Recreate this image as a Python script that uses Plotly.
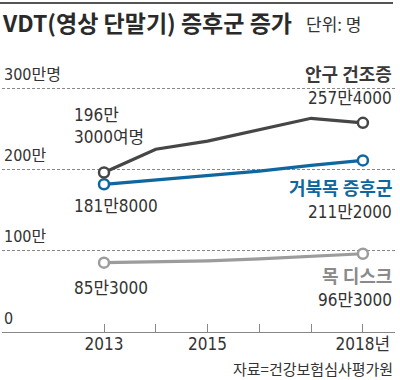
import plotly.graph_objects as go

years = [2013, 2014, 2015, 2016, 2017, 2018]
dry_eye = [196.3, 225, 235, 249, 263, 257.4]      # 안구 건조증 (만 명)
turtle_neck = [181.8, 187, 192, 198, 205, 211.2]  # 거북목 증후군
neck_disc = [85.3, 86.5, 87.5, 90, 93, 96.3]      # 목 디스크
y_grid = [100, 200, 300]
y_labels = ["100만", "200만", "300만명"]
tick_vals = [2013, 2014, 2015, 2016, 2017, 2018]
tick_text = ["2013", "", "2015", "", "", "2018년"]

FONT = "Noto Sans CJK KR"
NUM = "'DejaVu Sans Condensed', 'Liberation Sans Narrow', 'Noto Sans CJK KR'"
DARK = "#464646"
BLUE = "#0f67a0"
LIGHT = "#9c9c9c"

W, H = 400, 380
ML, MR, MT, MB = 2, 5, 85, 48
PW, PH = W - ML - MR, H - MT - MB


def px(xp):
    return (xp - ML) / PW


def py(yp):
    return (H - MB - yp) / PH


fig = go.Figure()
for vals, col in [(neck_disc, LIGHT), (turtle_neck, BLUE), (dry_eye, DARK)]:
    fig.add_trace(go.Scatter(
        x=years, y=vals, mode="lines", line=dict(color=col, width=3.2),
        hoverinfo="skip", showlegend=False))
    fig.add_trace(go.Scatter(
        x=[years[0], years[-1]], y=[vals[0], vals[-1]], mode="markers",
        marker=dict(symbol="circle", size=10, color="white",
                    line=dict(color=col, width=2.5)),
        hoverinfo="skip", showlegend=False))

ann = []
# y-axis labels above gridlines
for v, t in zip([0] + y_grid, ["0"] + y_labels):
    ann.append(dict(xref="paper", yref="y", x=0, y=v, xanchor="left",
                    yanchor="middle", yshift=14, text=t, showarrow=False,
                    font=dict(family=NUM, size=16, color="#333")))


def lab(x, y, text, xanchor, xshift, yshift, color="#333", size=17, family=NUM):
    ann.append(dict(xref="x", yref="y", x=x, y=y, text=text, showarrow=False,
                    xanchor=xanchor, yanchor="middle", xshift=xshift,
                    yshift=yshift, align="left" if xanchor == "left" else "right",
                    font=dict(family=family, size=size, color=color)))


lab(2013, dry_eye[0], "196만<br>3000여명", "left", -32, 47)
lab(2013, turtle_neck[0], "181만8000", "left", -32, -22)
lab(2013, neck_disc[0], "85만3000", "left", -32, -25)

lab(2018, dry_eye[-1], "<b>안구 건조증</b>", "right", 31, 50, "#3a3a3a", 18, FONT)
lab(2018, dry_eye[-1], "257만4000", "right", 31, 25)
lab(2018, turtle_neck[-1], "<b>거북목 증후군</b>", "right", 31, -27, BLUE, 18, FONT)
lab(2018, turtle_neck[-1], "211만2000", "right", 31, -52)
lab(2018, neck_disc[-1], "<b>목 디스크</b>", "right", 31, -21, "#8a8a8a", 18, FONT)
lab(2018, neck_disc[-1], "96만3000", "right", 31, -46)

# title
ann.append(dict(xref="paper", yref="paper", x=px(0), y=py(22), xanchor="left",
                yanchor="middle", showarrow=False,
                text="<b>VDT(영상 단말기) 증후군 증가</b>",
                font=dict(family=FONT, size=23, color="#2a2a2a")))
ann.append(dict(xref="paper", yref="paper", x=px(304), y=py(23), xanchor="left",
                yanchor="middle", showarrow=False, text="단위: 명",
                font=dict(family=FONT, size=17, color="#333")))
ann.append(dict(xref="paper", yref="paper", x=px(395), y=py(368), xanchor="right",
                yanchor="middle", showarrow=False, text="자료=건강보험심사평가원",
                font=dict(family=FONT, size=15, color="#333")))

fig.update_layout(
    width=W, height=H, margin=dict(l=ML, r=MR, t=MT, b=MB),
    paper_bgcolor="white", plot_bgcolor="white",
    annotations=ann,
    shapes=[dict(type="line", xref="paper", yref="paper", x0=px(0), x1=px(393),
                 y0=py(3), y1=py(3), line=dict(color="#555", width=2))],
    xaxis=dict(range=[2011.03, 2018.62], tickvals=tick_vals, ticktext=tick_text,
               ticks="inside", ticklen=8, tickcolor="#888", tickwidth=1,
               showgrid=False, zeroline=False, showline=True, linecolor="#888",
               linewidth=1, tickfont=dict(family=NUM, size=17, color="#333"),
               ticklabelstandoff=-3, fixedrange=True),
    yaxis=dict(range=[0, 304], tickvals=y_grid, showticklabels=False,
               showgrid=True, gridcolor="#888", gridwidth=1, griddash="3px,2px",
               zeroline=False, showline=False, fixedrange=True),
)

fig.write_html("out.html", config={"displayModeBar": False},
               post_script="document.body.style.margin='0';"
                           "document.body.style.overflow='hidden';")
